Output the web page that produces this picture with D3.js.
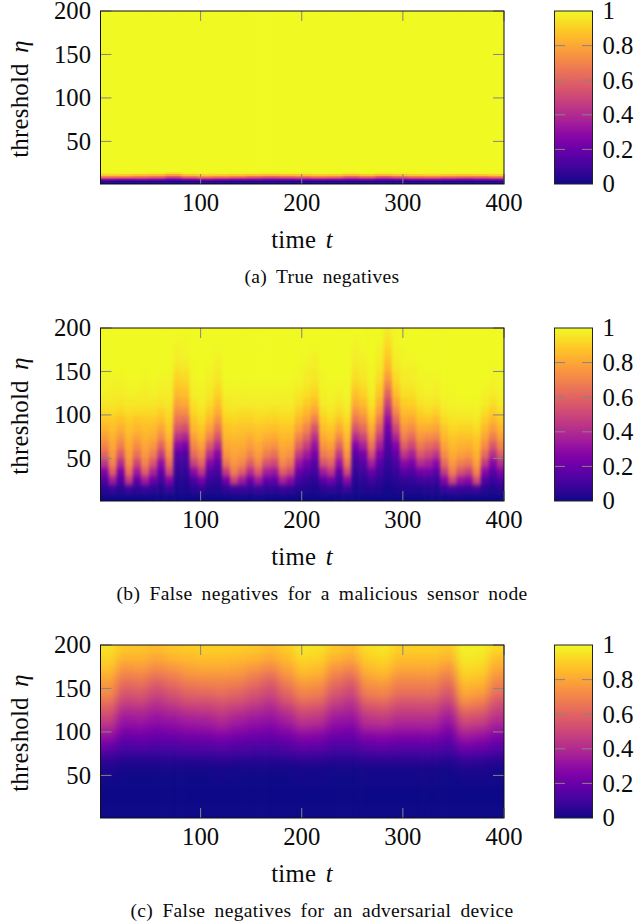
<!DOCTYPE html>
<html><head><meta charset="utf-8">
<script src="https://cdn.jsdelivr.net/npm/d3@7"></script>
<style>html,body{margin:0;padding:0;background:#fff;overflow:hidden}svg{display:block}text{font-family:"Liberation Serif",serif;fill:#0a0a0a}</style>
</head><body><svg id="c" width="636" height="924"></svg>
<script>
const tTicks=[100,200,300,400];
const etaTicks=[50,100,150,200];
const barTicks=[0,0.2,0.4,0.6,0.8,1];
const captions=["(a) True negatives","(b) False negatives for a malicious sensor node","(c) False negatives for an adversarial device"];

// Panel (a): each inner list is one time column, low to high threshold, share in percent
const timesA=[9,25,41,57,73,89,105,121,137,153,169,185,201,217,233,249,265,281,297,313,329,345,361,377,393];
const etasA=[2,4,6,8,10,12,14,16,108];
const shareA=[
[0,2,20,48,72,90,98,100,100],[0,2,18,46,72,89,98,100,100],[0,2,20,46,68,86,97,100,100],[0,2,18,44,66,84,96,100,100],[0,1,14,36,58,78,93,100,100],
[0,2,17,44,68,87,97,100,100],[0,3,22,50,74,90,98,100,100],[0,2,20,47,72,89,98,100,100],[0,2,18,44,70,88,97,100,100],[0,2,18,42,66,86,97,100,100],
[0,2,16,40,62,84,96,100,100],[0,2,17,42,65,86,97,100,100],[0,2,18,44,68,87,97,100,100],[0,2,20,47,72,89,98,100,100],[0,2,19,45,70,88,98,100,100],
[0,2,16,40,62,84,96,100,100],[0,2,18,44,68,88,98,100,100],[0,2,15,38,60,84,96,100,100],[0,2,16,42,66,87,97,100,100],[0,2,19,46,70,89,98,100,100],
[0,2,20,47,72,90,98,100,100],[0,2,18,44,70,88,98,100,100],[0,2,17,42,68,87,97,100,100],[0,2,18,44,68,88,98,100,100],[0,2,20,46,72,90,98,100,100]];

// Panel (b)
const timesB=[5,13,21,29,37,45,53,61,69,77,85,93,101,109,117,125,133,141,149,157,165,173,181,189,197,205,213,221,229,237,245,253,261,269,277,285,293,301,309,317,325,333,341,349,357,365,373,381,389,397];
const etasB=[5,15,25,35,45,55,65,75,85,95,105,115,125,135,145,155,165,175,185,195];
const shareB=[
[0,5,14,26,44,60,70,77,83,88,93,96,98,99,99,100,100,100,100,100],
[1,8,35,58,70,76,80,83,86,89,93,96,97,98,99,100,100,100,100,100],
[0,5,13,24,40,56,68,76,82,87,92,95,97,98,99,100,100,100,100,100],
[1,9,45,64,73,78,81,84,87,90,94,96,98,99,100,100,100,100,100,100],
[0,6,18,34,50,64,73,79,84,88,93,96,98,99,100,100,100,100,100,100],
[1,8,35,58,70,76,80,83,86,89,93,96,97,98,99,100,100,100,100,100],
[0,6,20,38,55,68,76,81,85,89,93,96,98,99,100,100,100,100,100,100],
[0,4,10,18,30,46,60,72,80,86,91,95,97,98,99,100,100,100,100,100],
[0,8,26,50,64,73,79,84,88,91,94,96,97,98,99,100,100,100,100,100],
[0,2,4,7,10,16,28,42,55,65,73,80,85,89,92,95,97,98,99,100],
[0,2,4,7,10,14,24,38,52,64,74,81,86,90,93,96,98,99,99,100],
[0,5,12,28,48,62,71,78,84,88,92,95,97,98,99,99,100,100,100,100],
[0,7,22,44,60,71,78,84,88,92,95,97,98,99,100,100,100,100,100,100],
[0,3,8,15,27,42,57,70,79,85,90,94,96,97,98,99,100,100,100,100],
[0,3,6,11,17,27,40,54,66,75,82,87,91,94,96,97,98,99,100,100],
[0,6,22,46,66,75,80,84,87,91,94,96,98,99,100,100,100,100,100,100],
[1,8,48,68,75,79,82,85,88,92,95,97,98,99,100,100,100,100,100,100],
[1,8,34,58,71,77,81,84,87,91,94,97,98,99,100,100,100,100,100,100],
[0,7,20,40,58,70,77,82,87,91,94,97,98,99,100,100,100,100,100,100],
[1,8,34,56,70,77,81,85,88,92,95,97,98,99,100,100,100,100,100,100],
[0,6,18,36,54,68,76,82,87,91,95,97,98,99,100,100,100,100,100,100],
[0,6,17,33,50,64,74,81,86,91,94,97,98,99,100,100,100,100,100,100],
[1,8,36,58,71,77,81,85,88,92,95,97,98,99,100,100,100,100,100,100],
[0,7,28,50,65,74,80,84,88,92,95,97,98,99,100,100,100,100,100,100],
[0,4,10,20,32,46,60,70,79,85,90,94,96,98,99,99,100,100,100,100],
[0,3,7,13,22,34,47,60,70,79,85,90,94,96,97,98,99,100,100,100],
[0,2,5,10,16,23,32,42,54,68,79,86,91,94,96,97,98,99,100,100],
[0,5,16,34,54,67,75,81,86,90,94,97,98,99,99,100,100,100,100,100],
[0,6,22,44,60,71,78,84,88,93,96,98,99,99,100,100,100,100,100,100],
[0,4,10,18,32,46,60,72,81,88,93,96,98,99,100,100,100,100,100,100],
[0,8,28,50,66,75,81,85,89,93,96,98,99,99,100,100,100,100,100,100],
[0,2,4,7,10,16,26,40,54,66,75,82,87,91,94,96,97,98,99,100],
[0,3,6,10,15,23,36,50,62,72,80,86,91,94,96,97,98,99,100,100],
[0,4,9,20,36,52,65,74,81,87,92,95,97,98,99,99,100,100,100,100],
[0,3,6,10,16,25,36,47,58,68,77,83,88,91,94,96,97,98,99,100],
[0,1,3,5,7,10,13,17,22,30,40,50,60,70,78,84,88,91,94,96],
[0,2,5,8,12,18,26,38,50,62,72,80,86,90,93,96,97,98,99,99],
[0,3,7,16,28,44,58,68,75,81,86,90,94,96,97,98,99,99,100,100],
[0,3,8,14,24,36,50,62,72,80,86,91,94,96,97,98,99,100,100,100],
[0,3,10,22,40,56,67,75,81,87,91,95,97,98,99,99,100,100,100,100],
[0,4,10,22,36,50,62,72,81,88,93,96,98,99,99,100,100,100,100,100],
[0,3,8,16,28,44,58,70,79,85,91,95,97,98,99,100,100,100,100,100],
[0,8,26,46,62,72,79,84,88,93,96,98,99,100,100,100,100,100,100,100],
[1,9,50,68,76,81,85,88,92,95,97,99,99,100,100,100,100,100,100,100],
[1,8,32,54,69,78,83,87,91,95,97,99,100,100,100,100,100,100,100,100],
[0,8,28,48,66,76,82,87,91,95,97,99,100,100,100,100,100,100,100,100],
[1,9,52,70,78,83,86,89,93,96,98,99,100,100,100,100,100,100,100,100],
[0,5,14,28,46,62,72,79,85,90,94,97,98,99,100,100,100,100,100,100],
[0,3,8,16,27,42,56,68,77,84,90,94,97,98,99,99,100,100,100,100],
[0,5,13,26,42,58,70,78,84,89,94,97,98,99,99,100,100,100,100,100]];

// Panel (c)
const timesC=[9,25,41,57,73,89,105,121,137,153,169,185,201,217,233,249,265,281,297,313,329,345,361,377,393];
const etasC=[5,15,25,35,45,55,65,75,85,95,105,115,125,135,145,155,165,175,185,195];
const shareC=[
[0,0,0,0,1,2,5,12,21,31,40,48,56,64,72,76,82,87,91,94],
[0,0,0,0,0,1,3,8,14,20,27,33,40,48,55,62,69,76,83,88],
[0,0,0,0,0,1,3,8,15,21,28,34,41,49,56,63,70,77,83,87],
[0,0,0,0,0,1,3,8,13,19,25,31,37,43,50,57,65,73,80,85],
[0,0,0,0,0,1,3,8,14,20,27,33,40,48,55,62,69,76,83,88],
[0,0,0,0,0,1,3,9,15,22,30,36,44,53,60,67,74,80,85,89],
[0,0,0,0,0,1,3,9,16,23,31,37,45,53,61,68,75,81,86,90],
[0,0,0,0,1,1,4,10,17,25,34,41,48,55,63,69,75,81,86,90],
[0,0,0,0,0,1,3,9,15,22,30,36,44,53,60,67,74,80,85,89],
[0,0,0,0,0,1,3,8,14,20,27,33,40,48,55,62,69,76,83,88],
[0,0,0,0,0,1,3,8,13,19,25,31,37,43,50,56,64,72,80,85],
[0,0,0,0,0,1,3,9,15,22,30,36,44,53,60,67,74,80,85,89],
[0,0,0,0,1,1,4,11,19,27,37,45,53,62,70,76,83,88,92,95],
[0,0,0,0,1,1,4,10,18,26,35,43,51,60,68,74,81,86,91,94],
[0,0,0,0,0,1,3,8,14,20,27,33,40,48,55,62,69,76,83,88],
[0,0,0,0,0,1,3,8,13,19,25,31,37,43,50,56,64,72,80,85],
[0,0,0,0,1,1,4,10,18,26,36,43,51,60,68,74,80,85,90,93],
[0,0,0,0,1,1,4,11,19,27,37,45,53,62,70,76,83,88,92,95],
[0,0,0,0,1,1,4,10,17,25,34,41,48,55,63,69,75,81,86,90],
[0,0,0,0,1,1,4,10,17,25,34,41,48,55,63,69,75,81,86,90],
[0,0,0,0,1,1,4,10,17,25,34,41,48,55,63,69,75,81,86,90],
[0,0,0,0,0,1,3,8,14,20,27,33,40,48,55,62,69,76,83,88],
[0,0,0,0,1,2,6,14,24,34,44,53,62,73,80,85,90,93,96,98],
[0,0,0,0,1,2,5,13,22,31,41,50,59,69,77,83,88,92,95,97],
[0,0,0,0,1,1,4,10,17,25,34,41,48,55,63,69,75,81,86,92]];

const panels=[
 {times:timesA,etas:etasA,share:shareA,blur:"1.5 0.6",top:11},
 {times:timesB,etas:etasB,share:shareB,blur:"1.6 2.6",top:328},
 {times:timesC,etas:etasC,share:shareC,blur:"4.5 3",top:645}];

const svg=d3.select("#c");
const defs=svg.append("defs");
const color=d3.scaleSequential(d3.interpolatePlasma).domain([0,100]);
const fs=24.7, plotH=173, left=100.5, right=504, barL=554.5, barR=592.5;

const grad=defs.append("linearGradient").attr("id","bar").attr("x1",0).attr("x2",0).attr("y1",1).attr("y2",0);
d3.range(0,101,2).forEach(v=>grad.append("stop").attr("offset",v/100).attr("stop-color",color(v)));

function edges(c,lo,hi){
  return c.map((v,i)=>[i?(c[i-1]+v)/2:lo-30,i<c.length-1?(v+c[i+1])/2:hi+30]);
}

panels.forEach((p,k)=>{
  const g=svg.append("g").attr("transform",`translate(0,${p.top})`);
  const x=d3.scaleLinear().domain([1,400]).range([left,right]);
  const y=d3.scaleLinear().domain([1,200]).range([plotH,0]);
  defs.append("clipPath").attr("id","clip"+k).append("rect").attr("x",left).attr("y",0).attr("width",right-left).attr("height",plotH);
  const f=defs.append("filter").attr("id","blur"+k).attr("filterUnits","userSpaceOnUse")
    .attr("x",left-60).attr("y",-60).attr("width",right-left+120).attr("height",plotH+120)
    .attr("color-interpolation-filters","sRGB");
  f.append("feGaussianBlur").attr("stdDeviation",p.blur);
  const ex=edges(p.times,1,400), ey=edges(p.etas,1,200);
  const cells=[];
  p.share.forEach((col,i)=>col.forEach((v,j)=>cells.push({i,j,v})));
  g.append("g").attr("clip-path",`url(#clip${k})`).append("g").attr("filter",`url(#blur${k})`)
   .selectAll("rect").data(cells).join("rect")
   .attr("x",d=>x(ex[d.i][0])).attr("width",d=>x(ex[d.i][1])-x(ex[d.i][0])+0.5)
   .attr("y",d=>y(ey[d.j][1])).attr("height",d=>y(ey[d.j][0])-y(ey[d.j][1])+0.5)
   .attr("fill",d=>color(d.v));

  const tc="#858585";
  const tk=g.append("g").attr("stroke",tc).attr("stroke-width",1).attr("fill","none");
  tTicks.forEach(t=>{
    tk.append("line").attr("x1",x(t)).attr("x2",x(t)).attr("y1",0).attr("y2",10);
    tk.append("line").attr("x1",x(t)).attr("x2",x(t)).attr("y1",plotH-10).attr("y2",plotH);
  });
  etaTicks.forEach(e=>{
    tk.append("line").attr("x1",left).attr("x2",left+11).attr("y1",y(e)).attr("y2",y(e));
    tk.append("line").attr("x1",right-11).attr("x2",right).attr("y1",y(e)).attr("y2",y(e));
  });
  g.append("rect").attr("x",left).attr("y",0).attr("width",right-left).attr("height",plotH).attr("fill","none").attr("stroke","#111").attr("stroke-width",1);

  g.selectAll(".xl").data(tTicks).join("text").attr("x",d=>x(d)).attr("y",199.5).attr("text-anchor","middle").attr("font-size",fs).text(d=>d);
  g.selectAll(".yl").data(etaTicks).join("text").attr("x",91).attr("y",d=>y(d)).attr("dy","0.34em").attr("text-anchor","end").attr("font-size",fs).text(d=>d);

  const xl=g.append("text").attr("x",302).attr("y",236.5).attr("text-anchor","middle").attr("font-size",fs).attr("letter-spacing",0.3);
  xl.append("tspan").text("time ");
  xl.append("tspan").attr("font-style","italic").attr("dx",3).text("t");
  const yl=g.append("text").attr("transform",`translate(28,88) rotate(-90)`).attr("text-anchor","middle").attr("font-size",fs).attr("letter-spacing",0.3);
  yl.append("tspan").text("threshold ");
  yl.append("tspan").attr("font-style","italic").attr("dx",4).text("η");

  const b=d3.scaleLinear().domain([0,1]).range([plotH,0]);
  g.append("rect").attr("x",barL).attr("y",b(1)).attr("width",barR-barL).attr("height",b(0)-b(1)).attr("fill","url(#bar)");
  const bt=g.append("g").attr("stroke",tc).attr("stroke-width",1);
  barTicks.slice(1,5).forEach(v=>{
    bt.append("line").attr("x1",barL).attr("x2",barL+10.5).attr("y1",b(v)).attr("y2",b(v));
    bt.append("line").attr("x1",barR-10.5).attr("x2",barR).attr("y1",b(v)).attr("y2",b(v));
  });
  g.append("rect").attr("x",barL).attr("y",0).attr("width",barR-barL).attr("height",plotH).attr("fill","none").attr("stroke","#222").attr("stroke-width",1);
  g.selectAll(".bl").data(barTicks).join("text").attr("x",602.5).attr("y",d=>b(d)).attr("dy","0.34em").attr("font-size",fs).text(d=>d);

  g.append("text").attr("x",322).attr("y",272).attr("text-anchor","middle").attr("font-size",19.5).attr("word-spacing",4).attr("letter-spacing",0.35).text(captions[k]);
});
</script></body></html>
